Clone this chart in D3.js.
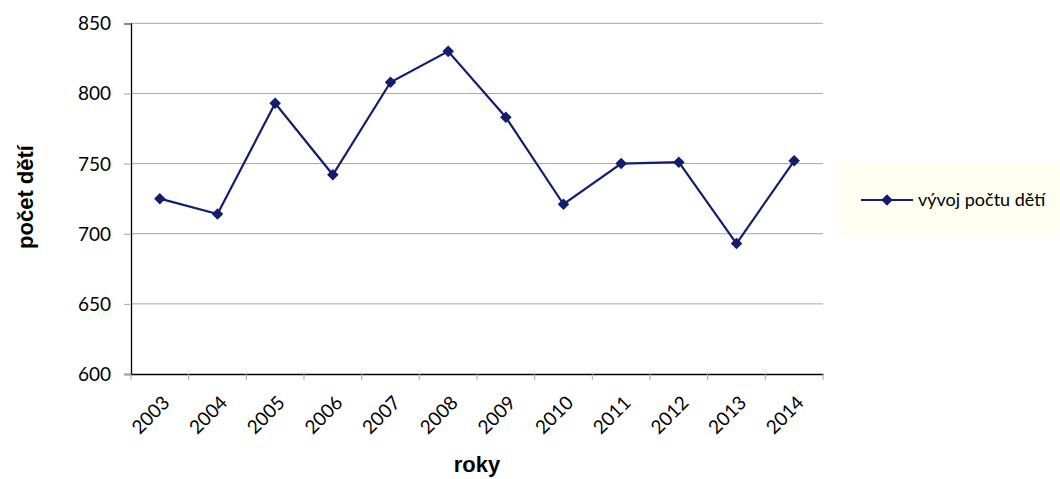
<!DOCTYPE html>
<html><head><meta charset="utf-8">
<script src="https://cdn.jsdelivr.net/npm/d3@7"></script>
<style>body{margin:0;background:#fff}svg{display:block}</style>
</head><body>
<script>
const years = ["2003","2004","2005","2006","2007","2008","2009","2010","2011","2012","2013","2014"];
const values = [725,714,793,742,808,830,783,721,750,751,693,752];
const yTicks = [600,650,700,750,800,850];
const seriesName = "vývoj počtu dětí";

const W=1060,H=479;
const m={l:131,r:823,t:23.3,b:374};
const svg=d3.select("body").append("svg").attr("width",W).attr("height",H);
const x=d3.scaleBand().domain(years).range([m.l,m.r]);
const y=d3.scaleLinear().domain([600,850]).range([m.b,m.t]);
const font="Lato, 'Open Sans', sans-serif";
const navy="#131c6e";

// gridlines
svg.append("g").selectAll("line").data(yTicks.slice(1)).join("line")
 .attr("x1",m.l).attr("x2",m.r).attr("y1",d=>y(d)).attr("y2",d=>y(d))
 .attr("stroke","#a6a6a6").attr("stroke-width",1);

// y axis
const ya=svg.append("g").attr("transform",`translate(${m.l},0)`)
 .call(d3.axisLeft(y).tickValues(yTicks).tickSize(7).tickPadding(13));
ya.select(".domain").attr("stroke","#000").attr("stroke-width",1.3);
ya.selectAll(".tick line").attr("stroke","#a6a6a6");
ya.selectAll("text").attr("font-family",font).attr("font-size",19).attr("fill","#000").attr("dy","0.34em");

// x axis
const xa=svg.append("g").attr("transform",`translate(0,${m.b})`)
 .call(d3.axisBottom(x).tickSize(0).tickPadding(0));
xa.select(".domain").attr("stroke","#000").attr("stroke-width",1.3);
xa.selectAll(".tick line").remove();
// boundary ticks
svg.append("g").selectAll("line").data(d3.range(years.length+1)).join("line")
 .attr("x1",i=>m.l+i*x.step()).attr("x2",i=>m.l+i*x.step())
 .attr("y1",m.b).attr("y2",m.b+6).attr("stroke","#a6a6a6");
xa.selectAll("text").attr("font-family",font).attr("font-size",19).attr("fill","#000")
 .attr("text-anchor","end").attr("dy",0).attr("y",0)
 .attr("transform",`translate(11,30) rotate(-45)`);

// line
svg.append("path").datum(values)
 .attr("d",d3.line().x((d,i)=>x(years[i])+x.bandwidth()/2).y(d=>y(d)))
 .attr("fill","none").attr("stroke",navy).attr("stroke-width",2.2);
const sym=d3.symbol().type(d3.symbolDiamond2).size(85);
svg.append("g").selectAll("path").data(values).join("path")
 .attr("d",sym).attr("fill",navy)
 .attr("transform",(d,i)=>`translate(${x(years[i])+x.bandwidth()/2},${y(d)})`);

// axis titles
svg.append("text").attr("x",477).attr("y",472).attr("text-anchor","middle")
 .attr("font-family","'Liberation Sans', Arial, sans-serif").attr("font-weight","bold").attr("font-size",22).text("roky");
svg.append("text").attr("transform","translate(33,197) rotate(-90)").attr("text-anchor","middle")
 .attr("font-family","'Liberation Sans', Arial, sans-serif").attr("font-weight","bold").attr("font-size",22).text("počet dětí");

// legend
const lg=svg.append("g");
lg.append("rect").attr("x",837).attr("y",162).attr("width",230).attr("height",74).attr("fill","#fffff2");
lg.append("line").attr("x1",861).attr("x2",913).attr("y1",200).attr("y2",200).attr("stroke",navy).attr("stroke-width",2.2);
lg.append("path").attr("d",sym).attr("fill",navy).attr("transform","translate(887,200)");
lg.append("text").attr("x",918).attr("y",206).attr("font-family",font).attr("font-size",18).text(seriesName);
</script>
</body></html>
